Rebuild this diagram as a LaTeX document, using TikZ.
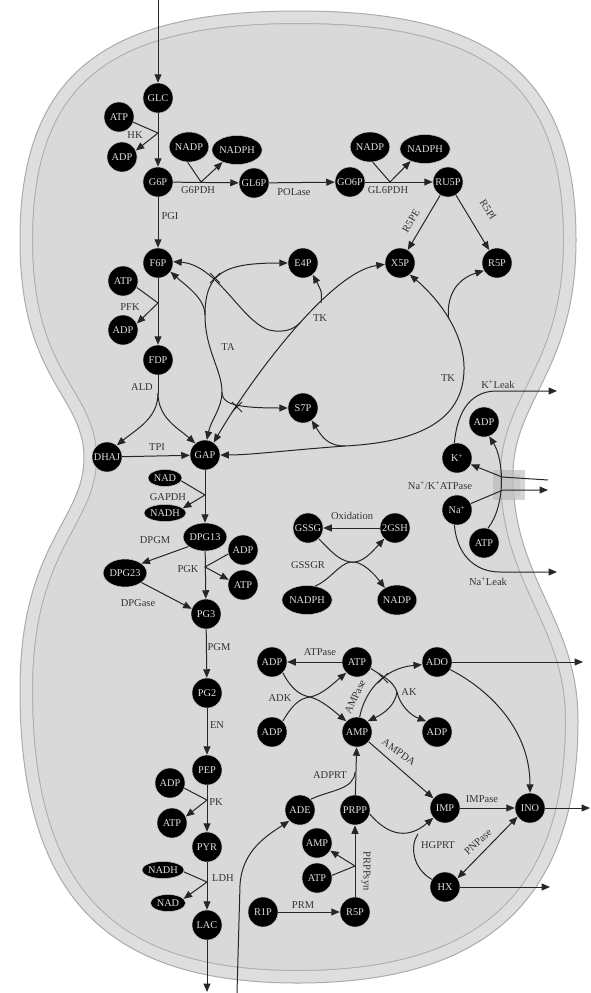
\documentclass[tikz,border=0pt]{standalone}
\usepackage{fontspec}
\setmainfont{Liberation Serif}
\usetikzlibrary{arrows.meta,shapes.geometric}
\begin{document}
\begin{tikzpicture}[x=1pt,y=-1pt,
 met/.style={circle,fill=black,draw=gray!45,line width=0.5pt,minimum size=30pt,inner sep=0pt,text=gray!25,font=\fontsize{10.3}{10}\selectfont},
 mete/.style={ellipse,fill=black,draw=gray!45,line width=0.5pt,inner sep=0pt,text=gray!25,font=\fontsize{10.3}{10}\selectfont},
 lbl/.style={text=black!80,font=\fontsize{10.5}{11}\selectfont,inner sep=0pt},
 rx/.style={draw=black!85,line width=1pt},
 ar/.style={rx,-{Triangle[length=8.5pt,width=7pt]}},
 arl/.style={rx,{Triangle[length=8.5pt,width=7pt]}-},
 arb/.style={rx,{Triangle[length=8.5pt,width=7pt]}-{Triangle[length=8.5pt,width=7pt]}},
 crossm/.style={draw=black!85,line width=0.8pt},
]
\useasboundingbox (0,0) rectangle (591,993);
\def\cellpath{(298,11) .. controls (110,11) and (20,70) .. (20,240) .. controls (20,380) and (84,395) .. (84,458) .. controls (84,520) and (20,545) .. (20,690) .. controls (20,900) and (110,983) .. (298,983) .. controls (486,983) and (578,900) .. (578,720) .. controls (578,620) and (513,580) .. (513,475) .. controls (513,400) and (576,370) .. (576,240) .. controls (576,70) and (486,11) .. cycle}
\begin{scope}
\clip \cellpath;
\fill[gray!30] \cellpath;
\draw[gray!65,line width=26pt] \cellpath;
\draw[gray!26,line width=24pt] \cellpath;
\end{scope}
\draw[gray!65,line width=1pt] \cellpath;

% ---------- nodes ----------
\node[met] (glc) at (158,98) {GLC};
\node[met] (atp1) at (119,117) {ATP};
\node[met] (adp1) at (122,157) {ADP};
\node[met] (g6p) at (158,182) {G6P};
\node[mete,minimum width=38pt,minimum height=30pt] (nadp1) at (189,147) {NADP};
\node[mete,minimum width=47pt,minimum height=29pt] (nadph1) at (237,150) {NADPH};
\node[met] (gl6p) at (254,183) {GL6P};
\node[met] (go6p) at (350,182) {GO6P};
\node[mete,minimum width=38pt,minimum height=30pt] (nadp2) at (370,147) {NADP};
\node[mete,minimum width=47pt,minimum height=29pt] (nadph2) at (425,149) {NADPH};
\node[met] (ru5p) at (448,182) {RU5P};
\node[met] (x5p) at (400,263) {X5P};
\node[met] (r5p) at (497,263) {R5P};
\node[met] (e4p) at (303,263) {E4P};
\node[met] (f6p) at (158,263) {F6P};
\node[met] (atp2) at (123,281) {ATP};
\node[met] (adp2) at (123,330) {ADP};
\node[met] (fdp) at (158,360) {FDP};
\node[met] (s7p) at (303,408) {S7P};
\node[met] (dhaj) at (107,457) {DHAJ};
\node[met] (gap) at (205,455) {GAP};
\node[mete,minimum width=34pt,minimum height=17pt] (nad1) at (165,478) {NAD};
\node[mete,minimum width=37pt,minimum height=17pt] (nadh1) at (165,513) {NADH};
\node[mete,minimum width=38pt,minimum height=28pt] (dpg13) at (205,537) {DPG13};
\node[met] (adp3) at (243,550) {ADP};
\node[met] (atp3) at (243,585) {ATP};
\node[mete,minimum width=39pt,minimum height=28pt] (dpg23) at (125,573) {DPG23};
\node[met] (pg3) at (206,614) {PG3};
\node[met] (pg2) at (207,693) {PG2};
\node[met] (pep) at (207,770) {PEP};
\node[met] (adp4) at (170,783) {ADP};
\node[met] (atp4) at (172,823) {ATP};
\node[met] (pyr) at (207,847) {PYR};
\node[mete,minimum width=37pt,minimum height=17pt] (nadh2) at (163,870) {NADH};
\node[mete,minimum width=35pt,minimum height=17pt] (nad2) at (168,903) {NAD};
\node[met] (lac) at (207,925) {LAC};
\node[met] (adpk) at (484,422) {ADP};
\node[met] (kp) at (457,458) {K\textsuperscript{+}};
\node[met] (nap) at (457,510) {Na\textsuperscript{+}};
\node[met] (atpk) at (484,543) {ATP};
\node[met] (gssg) at (308,528) {GSSG};
\node[met] (gsh) at (395,528) {2GSH};
\node[mete,minimum width=48pt,minimum height=29pt] (nadph3) at (307,600) {NADPH};
\node[mete,minimum width=37pt,minimum height=30pt] (nadp3) at (397,600) {NADP};
\node[met] (adpa) at (272,662) {ADP};
\node[met] (atpa) at (357,662) {ATP};
\node[met] (ado) at (437,662) {ADO};
\node[met] (adpb) at (272,732) {ADP};
\node[met] (amp) at (357,732) {AMP};
\node[met] (adpc) at (437,732) {ADP};
\node[met] (ade) at (300,810) {ADE};
\node[met] (prpp) at (355,810) {PRPP};
\node[met] (imp) at (445,808) {IMP};
\node[met] (ino) at (530,808) {INO};
\node[met] (ampb) at (317,843) {AMP};
\node[met] (atpb) at (317,878) {ATP};
\node[met] (hx) at (445,887) {HX};
\node[met] (r1p) at (263,912) {R1P};
\node[met] (r5pb) at (355,912) {R5P};

% ---------- coordinates ----------
\coordinate (glcin) at (158,0);
\coordinate (jhk) at (158,133);
\coordinate (jg6pdh) at (201,182);
\coordinate (jgl6pdh) at (390,182);
\coordinate (jpfk) at (158,303);
\coordinate (jald) at (158,393);
\coordinate (jgapdh) at (205,495);
\coordinate (jpgk) at (205,567);
\coordinate (jpk) at (207,800);
\coordinate (jldh) at (207,882);
\coordinate (lacout) at (207,992);
\coordinate (tkf) at (301,322);
\coordinate (tke) at (321,303);
\coordinate (taj) at (205,315);
\coordinate (tab) at (222,392);
\coordinate (tkr) at (448.6,318.7);
\coordinate (tks) at (345,446);
\coordinate (jgssgr) at (350,562);
\coordinate (jadk) at (310,697);
\coordinate (jak) at (397,692);
\coordinate (adoout) at (583,662);
\coordinate (inoout) at (590,808);
\coordinate (hxout) at (550,887);
\coordinate (jadprt) at (355,772);
\coordinate (jhgprt) at (418,834);
\coordinate (jprpps) at (355,866);
\coordinate (adein) at (237,993);
\coordinate (kin) at (548,480);
\coordinate (kbend) at (502,477);
\coordinate (naout) at (548,490);
\coordinate (nabend) at (503,490);
\coordinate (kleak) at (557,391);
\coordinate (naleak) at (557,572);

% ---------- glycolysis ----------
\draw[ar] (glcin) -- (glc);
\draw[ar] (glc) -- (g6p);
\draw[ar] (atp1.-20) -- (jhk) -- (adp1.25);
\draw[ar] (g6p) -- (f6p);
\draw[ar] (g6p) -- (gl6p);
\draw[ar] (nadp1.-95) -- (jg6pdh) -- (nadph1.-140);
\draw[ar] (gl6p) -- (go6p);
\draw[ar] (go6p) -- (ru5p);
\draw[ar] (nadp2.-80) -- (jgl6pdh) -- (nadph2.-140);
\draw[ar] (ru5p) -- (x5p);
\draw[ar] (ru5p) -- (r5p);
\draw[ar] (f6p) -- (fdp);
\draw[ar] (atp2.-25) -- (jpfk) -- (adp2.25);
\draw[rx] (fdp) -- (jald);
\draw[ar] (jald) .. controls (158,418) and (138,428) .. (dhaj.50);
\draw[ar] (jald) .. controls (158,418) and (178,428) .. (gap.130);
\draw[ar] (dhaj) -- (gap);
\draw[ar] (gap) -- (dpg13);
\draw[ar] (nad1.-10) -- (jgapdh) -- (nadh1.15);
\draw[ar] (dpg13) -- (pg3);
\draw[ar] (adp3.-165) -- (jpgk) -- (atp3.160);
\draw[ar] (dpg13.-150) -- (dpg23.30);
\draw[ar] (dpg23.-30) -- (pg3.160);
\draw[ar] (pg3) -- (pg2);
\draw[ar] (pg2) -- (pep);
\draw[ar] (pep) -- (pyr);
\draw[ar] (adp4.-20) -- (jpk) -- (atp4.25);
\draw[ar] (pyr) -- (lac);
\draw[ar] (nadh2.-5) -- (jldh) -- (nad2.15);
\draw[ar] (lac) -- (lacout);

% ---------- TA / TK ----------
\draw[arb] (x5p.185) .. controls (330,272) and (250,380) .. (gap.55);
\draw[arl] (f6p.5) .. controls (220,265) and (245,330) .. (275,331) .. controls (288,332) and (295,328) .. (tkf);
\draw[ar] (tke) .. controls (322,292) .. (e4p.-50);
\draw[arb] (e4p.west) .. controls (225,263) and (205,272) .. (taj) .. controls (205,350) and (222,370) .. (tab) .. controls (222,403) and (232,408) .. (s7p.west);
\draw[arl] (f6p.-35) .. controls (185,285) and (205,298) .. (taj);
\draw[ar] (tab) .. controls (222,408) and (211,420) .. (gap.83);
\draw[arb] (x5p.-50) .. controls (440,300) and (465,335) .. (464,370) .. controls (463,420) and (420,442) .. (tks) .. controls (290,450) and (250,455) .. (gap.east);
\draw[ar] (tkr) .. controls (446,292) and (460,278) .. (r5p.-150);
\draw[ar] (tks) .. controls (328,446) and (322,437) .. (s7p.-55);
\draw[crossm] (210,273) -- (220,283) (210,283) -- (220,273);
\draw[crossm] (232,402) -- (242,412) (232,412) -- (242,402);

% ---------- Na/K ----------
\fill[gray!60,opacity=0.55] (493,470) rectangle (525,500);
\fill[gray!45,opacity=0.5] (500,474) rectangle (520,497);
\draw[ar] (kin) -- (kbend) -- (kp.-25);
\draw[ar] (nap.25) -- (nabend) -- (naout);
\draw[ar] (atpk.75) .. controls (506,505) and (504,460) .. (adpk.-70);
\draw[ar] (kp.100) .. controls (457,415) and (468,392) .. (495,391) -- (kleak);
\draw[ar] (nap.-100) .. controls (457,555) and (475,572) .. (500,572) -- (naleak);

% ---------- glutathione ----------
\draw[ar] (gsh) -- (gssg);
\draw[ar] (gssg.-45) .. controls (330,550) and (338,560) .. (jgssgr) .. controls (362,564) and (372,552) .. (gsh.-135);
\draw[ar] (nadph3.60) .. controls (330,580) and (338,565) .. (jgssgr) .. controls (362,560) and (375,575) .. (nadp3.135);

% ---------- adenine nucleotides ----------
\draw[ar] (atpa) -- (adpa);
\draw[ar] (adpa.-45) .. controls (292,690) and (300,695) .. (jadk) .. controls (322,700) and (335,712) .. (amp.135);
\draw[ar] (adpb.45) .. controls (292,705) and (300,698) .. (jadk) .. controls (322,695) and (335,682) .. (atpa.-135);
\draw[ar] (amp.80) .. controls (365,690) and (385,668) .. (ado.190);
\draw[ar] (atpa.-25) .. controls (380,675) and (393,680) .. (jak) .. controls (400,705) and (410,715) .. (adpc.135);
\draw[ar] (jak) .. controls (395,705) and (385,713) .. (amp.45);
\draw[crossm] (378,673) -- (388,683) (378,683) -- (388,673);
\draw[ar] (amp.-40) -- (imp.140);
\draw[ar] (ado) -- (adoout);
\draw[ar] (ado.-30) .. controls (490,690) and (530,730) .. (ino.north);
\draw[ar] (prpp) -- (amp);
\draw[rx] (ade.45) .. controls (330,790) and (354,790) .. (jadprt);
\draw[ar] (prpp.-15) .. controls (385,832) and (405,842) .. (imp.-140);
\draw[rx] (hx.150) .. controls (412,868) and (410,845) .. (jhgprt);
\draw[ar] (imp) -- (ino);
\draw[ar] (ino) -- (inoout);
\draw[arb] (ino.-145) -- (hx.35);
\draw[ar] (hx) -- (hxout);
\draw[ar] (r5pb) -- (prpp);
\draw[ar] (atpb.10) -- (jprpps) -- (ampb.-30);
\draw[ar] (r1p) -- (r5pb);
\draw[ar] (adein) -- (240,885) .. controls (242,850) and (268,835) .. (ade.-135);

% ---------- labels ----------
\node[lbl] (lhk) at (135,135) {HK};
\node[lbl] (lg6pdh) at (198,190) {G6PDH};
\node[lbl] (lpgi) at (170,216) {PGI};
\node[lbl] (lpol) at (294,192) {POLase};
\node[lbl] (lgl6pdh) at (388,190) {GL6PDH};
\node[lbl,rotate=59] (lr5pe) at (411,221) {R5PE};
\node[lbl,rotate=-57] (lr5pi) at (488,210) {R5PI};
\node[lbl] (lpfk) at (130,307) {PFK};
\node[lbl] (lald) at (142,387) {ALD};
\node[lbl] (lta) at (228,347) {TA};
\node[lbl] (ltk1) at (320,318) {TK};
\node[lbl] (ltk2) at (448,378) {TK};
\node[lbl] (ltpi) at (157,447) {TPI};
\node[lbl] (lgapdh) at (168,497) {GAPDH};
\node[lbl] (ldpgm) at (155,540) {DPGM};
\node[lbl] (lpgk) at (188,569) {PGK};
\node[lbl] (ldpgase) at (138,603) {DPGase};
\node[lbl] (lpgm) at (219,647) {PGM};
\node[lbl] (len) at (217,725) {EN};
\node[lbl] (lpk) at (216,802) {PK};
\node[lbl] (lldh) at (223,878) {LDH};
\node[lbl] (lkleak) at (498,384) {K\textsuperscript{+}Leak};
\node[lbl] (lnak) at (440,485) {Na\textsuperscript{+}/K\textsuperscript{+}ATPase};
\node[lbl] (lnaleak) at (488,581) {Na\textsuperscript{+}Leak};
\node[lbl] (lox) at (352,516) {Oxidation};
\node[lbl] (lgssgr) at (308,565) {GSSGR};
\node[lbl] (latpase) at (320,652) {ATPase};
\node[lbl] (ladk) at (280,698) {ADK};
\node[lbl] (lak) at (409,692) {AK};
\node[lbl,rotate=65] (lampase) at (355,697) {AMPase};
\node[lbl,rotate=-35] (lampda) at (399,752) {AMPDA};
\node[lbl] (ladprt) at (330,775) {ADPRT};
\node[lbl] (limpase) at (482,799) {IMPase};
\node[lbl] (lhgprt) at (438,845) {HGPRT};
\node[lbl,rotate=42] (lpnpase) at (478,842) {PNPase};
\node[lbl,rotate=-90] (lprpps) at (366,871) {PRPPsyn};
\node[lbl] (lprm) at (303,905) {PRM};
\end{tikzpicture}
\end{document}
